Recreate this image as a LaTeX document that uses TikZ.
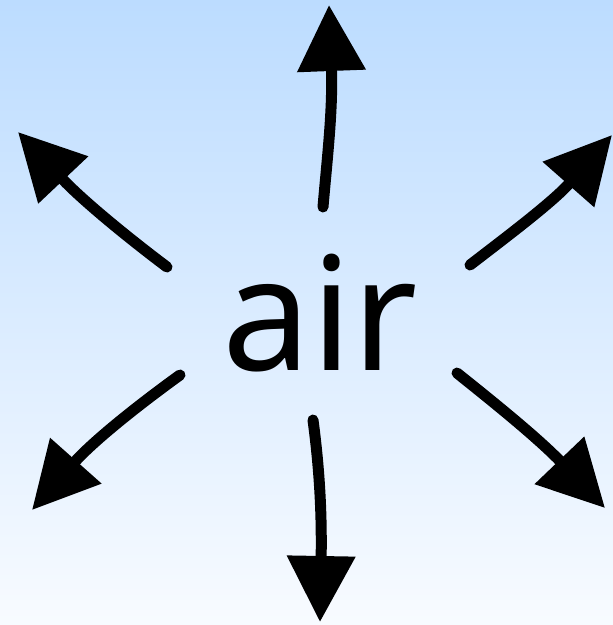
\documentclass[tikz,border=0pt]{standalone}
\usepackage{fontspec}
\usepackage{tikz}
\usetikzlibrary{arrows.meta}
\newfontfamily\wordfont{Noto Sans}
\definecolor{skytop}{RGB}{188,220,255}
\definecolor{skybottom}{RGB}{248,251,255}

\begin{document}
\begin{tikzpicture}[
  x=1pt, y=-1pt,
  puff/.style={
    line width=11pt, line cap=round,
    -{Triangle[length=66pt, width=66pt]}
  },
  word/.style={font=\wordfont\fontsize{158}{160}\selectfont,
    inner sep=0pt, anchor=base},
]

% ---- background --------------------------------------------------------
\shade[top color=skytop, bottom color=skybottom] (0,0) rectangle (613,625);
\useasboundingbox (0,0) rectangle (613,625);

% ---- the word ----------------------------------------------------------
\node[word] (air) at (320,370) {air};

% ---- arrow ends --------------------------------------------------------
\coordinate (upS)  at (323,207);  \coordinate (upT)  at (329,5);
\coordinate (dnS)  at (313,420);  \coordinate (dnT)  at (320,622);
\coordinate (ulS)  at (167,267);  \coordinate (ulT)  at (18,132);
\coordinate (urS)  at (470,265);  \coordinate (urT)  at (612,135);
\coordinate (llS)  at (180,375);  \coordinate (llT)  at (32,510);
\coordinate (lrS)  at (457,373);  \coordinate (lrT)  at (605,508);

% ---- arrows out of the word --------------------------------------------
\draw[puff] (upS) .. controls (327,160) and (333,110) .. (upT);
\draw[puff] (dnS) .. controls (319,465) and (322,510) .. (dnT);
\draw[puff] (ulS) .. controls (135,243) and (85,203) .. (ulT);
\draw[puff] (urS) .. controls (505,238) and (553,202) .. (urT);
\draw[puff] (llS) .. controls (148,398) and (96,438) .. (llT);
\draw[puff] (lrS) .. controls (492,401) and (538,438) .. (lrT);

\end{tikzpicture}
\end{document}
